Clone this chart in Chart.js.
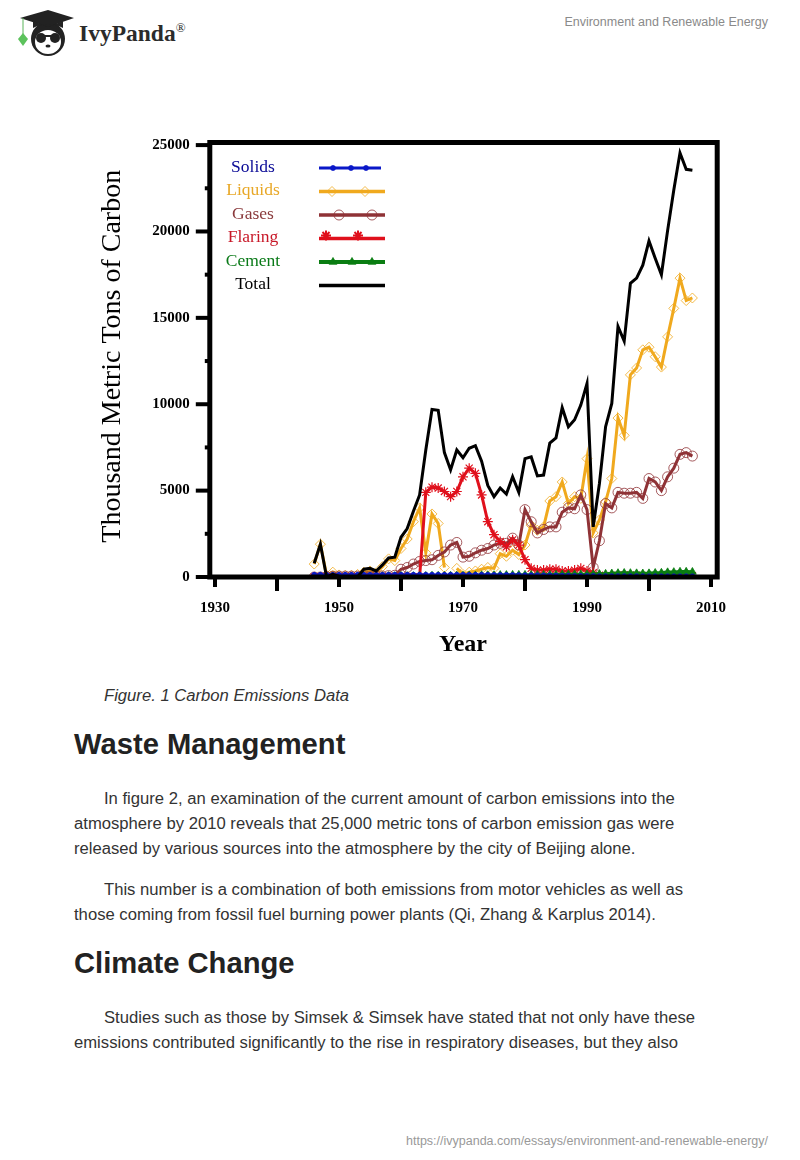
<!DOCTYPE html>
<html>
<head>
<meta charset="utf-8">
<title>Environment and Renewable Energy</title>
<script src="https://cdn.jsdelivr.net/npm/chart.js@4"></script>
<style>
html, body { margin: 0; padding: 0; background: #fff; }
body { position: relative; width: 800px; height: 1160px; overflow: hidden; font-family: "Liberation Sans", Arial, sans-serif; color: #333; }
.line { position: absolute; left: 74px; font-size: 16.65px; line-height: 26px; white-space: nowrap; }
h2 { position: absolute; left: 74px; margin: 0; font-size: 29.2px; line-height: 36px; font-weight: bold; color: #222; white-space: nowrap; }
#chartBox { position: absolute; left: 90px; top: 130px; width: 650px; height: 530px; }
#brand { position: absolute; left: 79px; top: 20px; font: bold 23.5px "Liberation Serif", serif; color: #2b2b2b; }
#brand sup { font-size: 13px; font-weight: normal; vertical-align: 9px; line-height: 0; }
#running { position: absolute; right: 32px; top: 15px; font-size: 12.5px; color: #8a8a8a; }
#source { position: absolute; right: 32px; top: 1134px; font-size: 12.5px; color: #999; }
</style>
</head>
<body>
<svg style="position:absolute;left:15px;top:8px" width="64" height="50" viewBox="0 0 64 50">
  <circle cx="33" cy="31" r="17" fill="#222"/>
  <ellipse cx="33" cy="34" rx="13" ry="12" fill="#fff"/>
  <circle cx="26" cy="30" r="5" fill="#222"/>
  <circle cx="40" cy="30" r="5" fill="#222"/>
  <rect x="22" y="27" width="20" height="2" fill="#222"/>
  <ellipse cx="33" cy="38" rx="2.5" ry="1.6" fill="#222"/>
  <path d="M5 10 L33 2 L59 10 L33 19 Z" fill="#222"/>
  <path d="M18 13 L18 20 Q33 12 48 20 L48 13 L33 19 Z" fill="#222"/>
  <path d="M8 10 L8 26" stroke="#5ab55a" stroke-width="1"/>
  <path d="M8 25 L13 31 L8 38 L3 31 Z" fill="#5cc25c"/>
</svg>
<div id="brand">IvyPanda<sup>®</sup></div>
<div id="running">Environment and Renewable Energy</div>

<div id="chartBox"><canvas id="emissionsChart"></canvas></div>

<div class="line" style="left:104px;top:683px;font-style:italic">Figure. 1 Carbon Emissions Data</div>
<h2 style="top:726px">Waste Management</h2>
<div class="line" style="left:104px;top:786px">In figure 2, an examination of the current amount of carbon emissions into the</div>
<div class="line" style="top:811px">atmosphere by 2010 reveals that 25,000 metric tons of carbon emission gas were</div>
<div class="line" style="top:836px">released by various sources into the atmosphere by the city of Beijing alone.</div>
<div class="line" style="left:104px;top:877px">This number is a combination of both emissions from motor vehicles as well as</div>
<div class="line" style="top:902px">those coming from fossil fuel burning power plants (Qi, Zhang &amp; Karplus 2014).</div>
<h2 style="top:945px">Climate Change</h2>
<div class="line" style="left:104px;top:1005px">Studies such as those by Simsek &amp; Simsek have stated that not only have these</div>
<div class="line" style="top:1030px">emissions contributed significantly to the rise in respiratory diseases, but they also</div>
<div id="source">https://ivypanda.com/essays/environment-and-renewable-energy/</div>

<script>
// values, 1946 - 2007
const years = [1946,1947,1948,1949,1950,1951,1952,1953,1954,1955,1956,1957,1958,1959,
    1960,1961,1962,1963,1964,1965,1966,1967,1968,1969,1970,1971,1972,1973,1974,1975,1976,1977,1978,1979,
    1980,1981,1982,1983,1984,1985,1986,1987,1988,1989,1990,1991,1992,1993,1994,1995,1996,1997,1998,1999,
    2000,2001,2002,2003,2004,2005,2006,2007];

const solids = [130,130,130,130,130,130,130,130,130,130,130,130,130,130,
    130,130,130,130,130,130,130,130,130,130,130,130,130,130,130,120,120,120,110,110,
    100,100,100,90,90,80,70,70,60,60,60,60,50,50,50,50,50,50,50,50,
    40,40,40,40,40,40,40,40];
const liquids = [750,1900,100,280,120,100,100,150,280,350,250,600,1050,950,
    1650,2200,3200,4000,1400,3650,3100,550,null,500,150,280,350,450,550,500,1350,1200,1550,1300,
    1850,3000,2700,2900,4400,4650,5500,4250,4650,4550,6850,2550,3300,4350,5700,9200,8200,11700,12100,13150,
    13300,12750,12150,13900,15550,17300,16000,16150];
const gases = [0,0,30,50,50,50,50,50,60,60,60,60,80,100,
    450,550,750,900,950,1000,1250,1450,1850,2000,1150,1200,1400,1550,1650,1850,1950,1950,2250,1850,
    3900,3200,2550,2750,2900,2900,3750,4000,3950,4750,3900,550,2100,4250,4000,4900,4850,4850,4900,4550,
    5700,5500,5000,5800,6300,7100,7200,7000];
const flaring = [0,0,0,0,0,0,0,0,0,0,0,0,0,0,
    0,0,0,0,4900,5200,5150,4950,4650,4950,5800,6300,6000,4750,3200,2450,2050,1750,2150,1850,
    1000,500,400,400,450,450,350,350,400,500,350,250,100,80,60,100,120,100,100,80,
    80,60,60,70,70,80,80,80];
const cement = [10,10,10,10,20,20,20,30,30,30,40,40,50,50,
    60,50,50,60,60,70,70,70,70,80,80,90,90,100,100,100,110,110,120,120,
    120,120,120,120,130,130,140,140,150,150,150,160,170,180,200,220,230,220,210,200,
    210,230,240,270,280,300,300,290];
const total = [800,1900,0,150,50,0,0,0,450,500,350,700,1100,1150,
    2300,2800,3800,4750,7350,9700,9650,7200,6200,7350,6900,7450,7600,6700,5300,4650,5150,4800,5800,4900,
    6850,6950,5850,5900,7750,8050,9800,8700,9100,9950,11200,2900,5400,8700,10050,14500,13650,17000,17300,18050,
    19450,18450,17500,20050,22400,24550,23600,23550];

const yTicks = [0,2500,5000,7500,10000,12500,15000,17500,20000,22500,25000];
const seriesNames = ['Solids', 'Liquids', 'Gases', 'Flaring', 'Cement', 'Total'];
const seriesValues = [solids, liquids, gases, flaring, cement, total];
const drawOrder = [1.5, 5, 4, 3, 2, 1];
const lineColors = ['#0a18c8', '#f0a91e', '#8f3236', '#e0101c', '#0a7d12', '#000000'];
const labelColors = ['#0a0a96', '#e8a828', '#8a3a3c', '#c81828', '#0a7a18', '#000000'];
const lineWidths = [2.5, 3, 3, 3, 3.5, 3];
const markers = [
    { pointStyle: 'circle', radius: 2.5, border: 0.8, filled: true },
    { pointStyle: 'rectRot', radius: 5, border: 0.8, filled: false },
    { pointStyle: 'circle', radius: 5, border: 0.8, filled: false },
    { pointStyle: 'star', radius: 5, border: 1.2, filled: false },
    { pointStyle: 'triangle', radius: 4.5, border: 0.8, filled: true },
    { pointStyle: false, radius: 0, border: 0, filled: false }
];
// where the legend swatches carry their markers (px along the sample line)
const legendMarks = [[14, 32, 47], [13, 46], [20, 53], [7, 39], [14, 33, 53], []];

const datasets = seriesNames.map((name, i) => ({
    label: name,
    data: years.map((year, k) => ({ x: year, y: seriesValues[i][k] })),
    borderColor: lineColors[i],
    borderWidth: lineWidths[i],
    pointStyle: markers[i].pointStyle,
    pointRadius: markers[i].radius,
    pointBorderWidth: markers[i].border,
    pointBorderColor: lineColors[i],
    pointBackgroundColor: markers[i].filled ? lineColors[i] : 'rgba(255,255,255,0)',
    tension: 0,
    clip: { left: 10, top: 10, right: 10, bottom: 2 },
    spanGaps: false,
    order: drawOrder[i]
}));

// thick frame and the long/short tick marks of the original plot
const frameAndTicks = {
    id: 'frameAndTicks',
    afterDatasetsDraw(chart) {
        const { ctx, chartArea: area, scales } = chart;
        ctx.save();
        ctx.strokeStyle = '#000';
        ctx.lineWidth = 5;
        ctx.strokeRect(area.left + 1, area.top, area.width - 1, area.height);
        ctx.fillStyle = '#000';
        scales.x.ticks.forEach(t => {
            const px = scales.x.getPixelForValue(t.value);
            if (t.value % 20 === 10) ctx.fillRect(px - 2, area.bottom, 4, 10);
            else ctx.fillRect(px - 2, area.bottom, 4, 14);
        });
        scales.y.ticks.forEach(t => {
            const py = scales.y.getPixelForValue(t.value);
            if (t.value % 5000 === 0) ctx.fillRect(area.left - 13, py - 2, 13, 4);
            else ctx.fillRect(area.left - 4, py - 2, 4, 4);
        });
        ctx.restore();
    }
};

// legend sits inside the plot with text left of the sample line
const insideLegend = {
    id: 'insideLegend',
    afterDraw(chart) {
        const { ctx } = chart;
        ctx.save();
        ctx.textAlign = 'center';
        ctx.textBaseline = 'middle';
        ctx.font = '17.5px "Liberation Serif", serif';
        seriesNames.forEach((name, i) => {
            const rowY = 37 + i * 23.5;
            ctx.fillStyle = labelColors[i];
            ctx.fillText(name, 163, rowY);
            ctx.strokeStyle = lineColors[i];
            ctx.lineWidth = lineWidths[i] + 0.5;
            ctx.beginPath();
            ctx.moveTo(229, rowY + 1);
            ctx.lineTo(i === 0 ? 291 : 295, rowY + 1);
            ctx.stroke();
            legendMarks[i].forEach(dx => {
                const isStar = markers[i].pointStyle === 'star';
                ctx.strokeStyle = lineColors[i];
                ctx.fillStyle = markers[i].filled ? lineColors[i] : 'rgba(255,255,255,0)';
                ctx.lineWidth = isStar ? 2 : 0.8;
                Chart.helpers.drawPoint(ctx, {
                    pointStyle: markers[i].pointStyle,
                    radius: markers[i].radius,
                    borderWidth: ctx.lineWidth
                }, 229 + dx, rowY + (isStar ? -2 : 1));
            });
        });
        ctx.restore();
    }
};

function clearPadding(scale) {
    scale.paddingLeft = 0;
    scale.paddingRight = 0;
    scale.paddingTop = 0;
    scale.paddingBottom = 0;
}

new Chart(document.getElementById('emissionsChart'), {
    type: 'line',
    data: { datasets },
    plugins: [frameAndTicks, insideLegend],
    options: {
        responsive: true,
        maintainAspectRatio: false,
        animation: false,
        layout: { padding: { left: 0, right: 22.8, top: 12.5, bottom: 0 } },
        plugins: { legend: { display: false }, tooltip: { enabled: false } },
        scales: {
            x: {
                type: 'linear',
                min: 1929,
                max: 2011,
                afterFit(scale) { scale.height = 83; clearPadding(scale); },
                border: { display: false },
                grid: { display: false },
                ticks: {
                    stepSize: 10,
                    includeBounds: false,
                    autoSkip: false,
                    maxRotation: 0,
                    padding: 14,
                    color: '#000',
                    font: { family: '"Liberation Serif", serif', size: 15, weight: 'bold' },
                    callback: v => (v % 20 === 10 ? String(v) : '')
                },
                title: {
                    display: true,
                    text: 'Year',
                    color: '#000',
                    padding: { top: 13, bottom: 1 },
                    font: { family: '"Liberation Serif", serif', size: 24, weight: 'bold' }
                }
            },
            y: {
                min: 0,
                max: 25150,
                afterBuildTicks(scale) { scale.ticks = yTicks.map(value => ({ value })); },
                afterFit(scale) { scale.width = 118.8; clearPadding(scale); },
                border: { display: false },
                grid: { display: false },
                ticks: {
                    autoSkip: false,
                    padding: 11,
                    color: '#000',
                    font: { family: '"Liberation Serif", serif', size: 15, weight: 'bold' },
                    callback: v => (v % 5000 === 0 ? String(v) : '')
                },
                title: {
                    display: true,
                    text: ' Thousand Metric Tons of Carbon',
                    color: '#000',
                    padding: { top: 6, bottom: 0 },
                    font: { family: '"Liberation Serif", serif', size: 28 }
                }
            }
        }
    }
});
</script>
</body>
</html>
